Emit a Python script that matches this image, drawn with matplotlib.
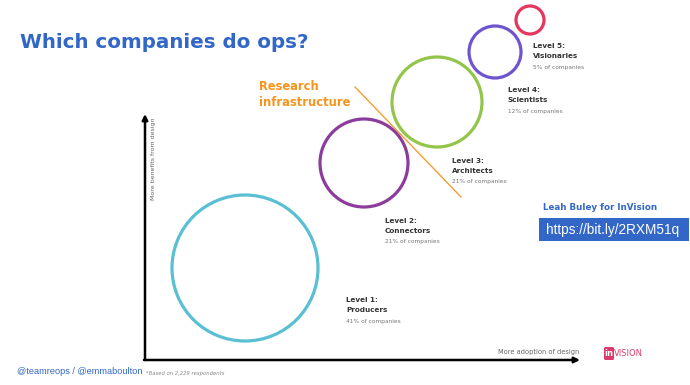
import matplotlib
matplotlib.use('Agg')
import matplotlib.pyplot as plt
from matplotlib.patches import Circle, FancyBboxPatch

# bubble levels (pixel space of the slide)
levels = ['Level 1:', 'Level 2:', 'Level 3:', 'Level 4:', 'Level 5:']
names = ['Producers', 'Connectors', 'Architects', 'Scientists', 'Visionaries']
shares = ['41% of companies', '21% of companies', '21% of companies',
          '12% of companies', '5% of companies']
circle_x = [245, 364, 437, 495, 530]
circle_y = [268, 163, 102, 52, 20]
circle_r = [73, 44, 45, 26, 14]
circle_colors = ['#5bbfd4', '#8c3c9b', '#93c54b', '#6e55cf', '#e5375e']
label_x = [346, 385, 452, 508, 533]
label_y = [300, 221, 161, 90, 46]

BLUE = '#3267c8'
ORANGE = '#f7941d'

fig = plt.figure(figsize=(6.9, 3.85), dpi=100)
ax = fig.add_axes([0, 0, 1, 1])
ax.set_xlim(0, 690)
ax.set_ylim(385, 0)
ax.axis('off')

# title
ax.text(20, 42, 'Which companies do ops?', color=BLUE, fontsize=14.3,
        fontweight='bold', va='center', ha='left')

# axes of the diagram
ax.annotate('', xy=(145, 114), xytext=(145, 360),
            arrowprops=dict(arrowstyle='-|>', color='black', lw=1.8,
                            mutation_scale=8, shrinkA=0, shrinkB=0))
ax.annotate('', xy=(580, 360), xytext=(144, 360),
            arrowprops=dict(arrowstyle='-|>', color='black', lw=1.8,
                            mutation_scale=8, shrinkA=0, shrinkB=0))
ax.text(154, 117, 'More benefits from design', rotation=90, fontsize=4.5,
        color='#666666', ha='center', va='top')
ax.text(579, 352, 'More adoption of design', fontsize=4.8,
        color='#666666', ha='right', va='center')

# bubbles
for x, y, r, c in zip(circle_x, circle_y, circle_r, circle_colors):
    ax.add_patch(Circle((x, y), r, fill=False, edgecolor=c, lw=2.3))

for lv, nm, sh, x, y in zip(levels, names, shares, label_x, label_y):
    ax.text(x, y, lv, fontsize=5.2, fontweight='bold', color='#333333',
            va='center', ha='left')
    ax.text(x, y + 10, nm, fontsize=5.2, fontweight='bold', color='#333333',
            va='center', ha='left')
    ax.text(x, y + 21, sh, fontsize=4.2, color='#777777',
            va='center', ha='left')

# research infrastructure divider
ax.plot([355, 461], [87, 197], color=ORANGE, lw=0.9)
ax.text(259, 86, 'Research', color=ORANGE, fontsize=8.3, fontweight='bold',
        va='center', ha='left')
ax.text(259, 102, 'infrastructure', color=ORANGE, fontsize=8.3,
        fontweight='bold', va='center', ha='left')

# source
ax.text(543, 207, 'Leah Buley for InVision', color=BLUE, fontsize=6.3,
        fontweight='bold', va='center', ha='left')
ax.add_patch(FancyBboxPatch((539, 218), 150, 23, boxstyle='square,pad=0',
                            facecolor=BLUE, edgecolor='none'))
ax.text(546, 230, 'https://bit.ly/2RXM51q', color='white', fontsize=9.8,
        family='Liberation Sans', va='center', ha='left')

# footer
ax.text(17, 372, '@teamreops / @emmaboulton', color=BLUE, fontsize=6.6,
        family='Liberation Sans', va='center', ha='left')
ax.text(146, 373, '*Based on 2,229 respondents', color='#888888',
        fontsize=3.8, style='italic', va='center', ha='left')

# invision logo
ax.add_patch(FancyBboxPatch((604, 347), 10, 13,
                            boxstyle='round,pad=0,rounding_size=1.5',
                            facecolor='#dc3a6c', edgecolor='none'))
ax.text(609, 354, 'in', color='white', fontsize=6, fontweight='bold',
        va='center', ha='center')
ax.text(614, 354, 'VISION', color='#dc3a6c', fontsize=6,
        va='center', ha='left')

fig.savefig('out.png', dpi=100)
